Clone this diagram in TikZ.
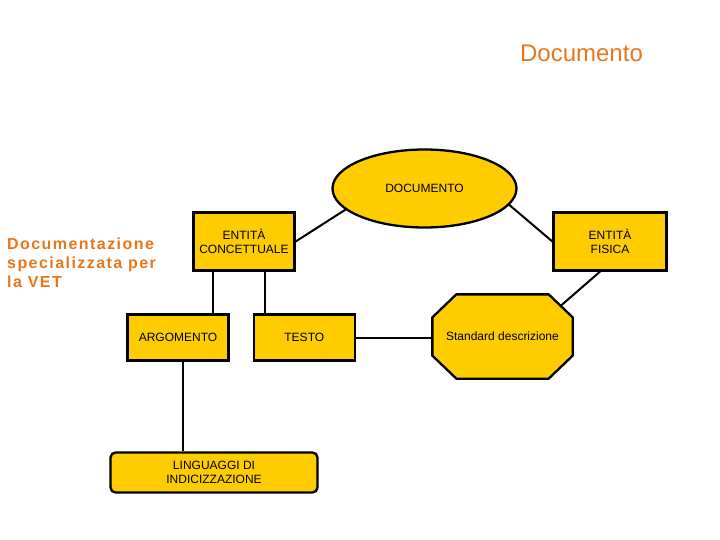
\documentclass[tikz,border=0pt]{standalone}
\usepackage{fontspec}
\setmainfont{Liberation Sans}
\usetikzlibrary{shapes.geometric, positioning, calc, backgrounds}
\definecolor{gold}{RGB}{255,204,0}
\definecolor{orangetxt}{RGB}{232,118,28}

\begin{document}
\begin{tikzpicture}[x=1pt, y=-1pt,
  box/.style={draw, line width=2.3pt, fill=gold, inner sep=0pt, align=center,
    font=\fontsize{12}{14.5}\selectfont},
  link/.style={line width=2pt}]
  \useasboundingbox (0,0) rectangle (720,540);
  \node[font=\fontsize{24}{28}\selectfont, text=orangetxt] (title) at (581.5,53) {Documento};
  \node[font=\bfseries\fontsize{16}{19}\selectfont\addfontfeature{LetterSpace=9}, text=orangetxt,
    align=left, anchor=north west, inner sep=0pt] (vet) at (7,238) {Documentazione\\specializzata per\\la VET};
  \node[box, ellipse, minimum width=184pt, minimum height=78pt] (doc) at (424.5,188.5) {DOCUMENTO};
  \node[box, minimum width=101pt, minimum height=58pt] (concept) at (244,241.5) {ENTITÀ\\CONCETTUALE};
  \node[box, minimum width=113pt, minimum height=58pt] (fisica) at (610,241.5) {ENTITÀ\\FISICA};
  \node[box, minimum width=101pt, minimum height=46pt] (arg) at (178,337.5) {ARGOMENTO};
  \node[box, minimum width=101pt, minimum height=46pt, right=23pt of arg] (testo) {TESTO};
  \node[box, draw=none, fill=none, minimum width=138pt, minimum height=82pt] (std) at (502.5,336.5) {Standard descrizione};
  \node[box, rounded corners=5pt, minimum width=207pt, minimum height=40pt] (lingua) at (214,472.5) {LINGUAGGI DI\\INDICIZZAZIONE};
  \begin{scope}[on background layer]
    \draw[box] ($(std.north west)+(24,0)$) -- ($(std.north east)+(-24,0)$)
      -- ($(std.north east)+(0,23)$) -- ($(std.south east)+(0,-23)$)
      -- ($(std.south east)+(-24,0)$) -- ($(std.south west)+(24,0)$)
      -- ($(std.south west)+(0,-23)$) -- ($(std.north west)+(0,23)$) -- cycle;
  \end{scope}
  \coordinate (stdne) at ($(std.north east)+(-12,11.5)$);
  \draw[link] (doc.195) -- (concept.east);
  \draw[link] (doc.349) -- (fisica.west);
  \draw[link] ([xshift=-31pt]concept.south) -- ([xshift=-31pt]concept.south |- arg.north);
  \draw[link] ([xshift=21pt]concept.south) -- ([xshift=21pt]concept.south |- testo.north);
  \draw[link] ([xshift=5pt]arg.south) -- ([xshift=5pt]arg.south |- lingua.north);
  \draw[link] (testo.east) -- (testo.east -| std.west);
  \draw[link] ([xshift=-10pt]fisica.south) -- (stdne);
\end{tikzpicture}
\end{document}
